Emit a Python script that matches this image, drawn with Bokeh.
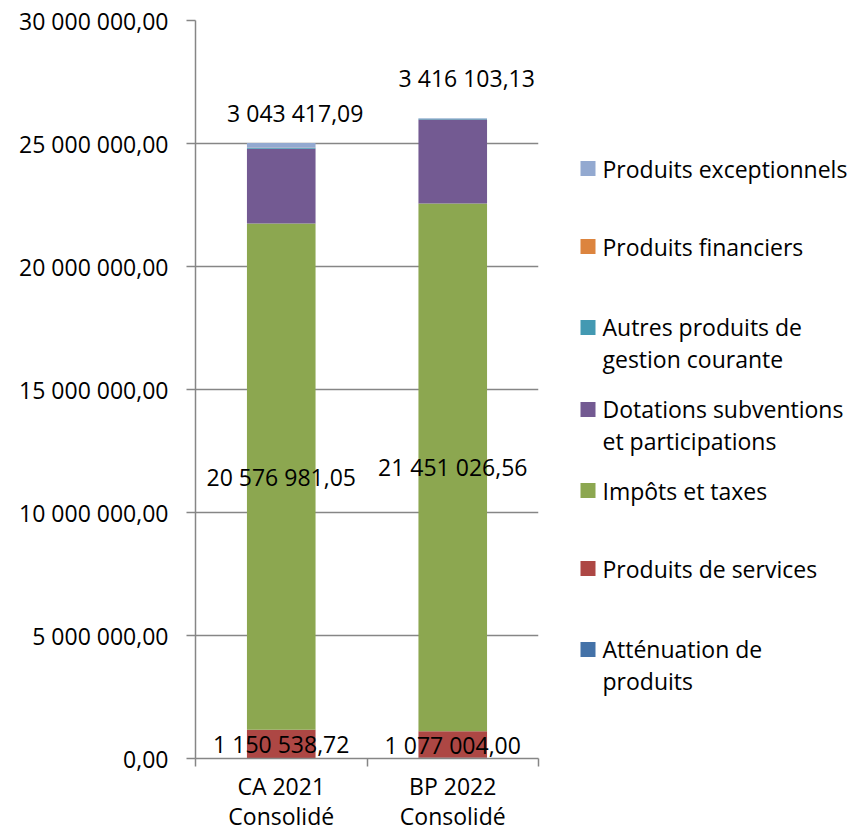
from bokeh.plotting import figure
from bokeh.models import Range1d, FixedTicker, ColumnDataSource
from bokeh.layouts import row
from bokeh.core.properties import value
from bokeh.embed import file_html
from bokeh.resources import INLINE

# ---------------- data ----------------
categories = ["CA 2021\nConsolidé", "BP 2022\nConsolidé"]
series = ["Atténuation de produits", "Produits de services", "Impôts et taxes",
          "Dotations subventions et participations", "Autres produits de gestion courante",
          "Produits financiers", "Produits exceptionnels"]
legend_text = ["Atténuation de\nproduits", "Produits de services", "Impôts et taxes",
               "Dotations subventions\net participations", "Autres produits de\ngestion courante",
               "Produits financiers", "Produits exceptionnels"]
attenuation = [20000.0, 30000.0]
services = [1150538.72, 1077004.00]
impots = [20576981.05, 21451026.56]
dotations = [3043417.09, 3416103.13]
autres = [30000.0, 30000.0]
financiers = [10000.0, 5000.0]
exceptionnels = [190000.0, 20000.0]
yticks = [0, 5000000, 10000000, 15000000, 20000000, 25000000, 30000000]
ytick_labels = ["0,00", "5 000 000,00", "10 000 000,00", "15 000 000,00",
                "20 000 000,00", "25 000 000,00", "30 000 000,00"]

colors = ["#4472A8", "#AD4744", "#8CA750", "#735A92", "#4399B2", "#DC843E", "#93A9D0"]
FONT = "Open Sans"
FS = "23px"
TXT = "#000000"
GRID = "#868686"
H = 835
TOP, BOTTOM = 20, 77


def fmt(v):
    return f"{v:,.2f}".replace(",", " ").replace(".", ",")


xs = [i + 0.5 for i in range(len(categories))]
data = {"x": xs}
vals = [attenuation, services, impots, dotations, autres, financiers, exceptionnels]
for name, v in zip(series, vals):
    data[name] = v
src = ColumnDataSource(data)

p = figure(width=560, height=H, output_backend="svg", toolbar_location=None,
           x_range=Range1d(0, len(categories)), y_range=Range1d(0, 30000000),
           min_border_left=195, min_border_right=22, min_border_top=TOP,
           min_border_bottom=BOTTOM)
p.outline_line_color = None
p.background_fill_color = "white"
p.border_fill_color = "white"

p.vbar_stack(series, x="x", width=0.4, color=colors, source=src, line_color=None)

# axes
p.xaxis.ticker = FixedTicker(ticks=xs, minor_ticks=list(range(len(categories) + 1)))
p.xaxis.major_label_overrides = {x: c for x, c in zip(xs, categories)}
p.xaxis.major_tick_out = 0
p.xaxis.major_tick_in = 0
p.xaxis.minor_tick_out = 8
p.xaxis.minor_tick_in = 0
p.xaxis.minor_tick_line_color = GRID
p.xaxis.minor_tick_line_width = 1.5
p.xaxis.major_label_standoff = 3
p.xaxis.major_label_text_line_height = 0.96

p.yaxis.ticker = FixedTicker(ticks=yticks, minor_ticks=[])
p.yaxis.major_label_overrides = {t: l for t, l in zip(yticks, ytick_labels)}
p.yaxis.major_tick_out = 9
p.yaxis.major_tick_in = 0
p.yaxis.major_tick_line_color = GRID
p.yaxis.major_tick_line_width = 1.5
p.yaxis.major_label_standoff = 18

for ax in (p.xaxis[0], p.yaxis[0]):
    ax.axis_line_color = GRID
    ax.axis_line_width = 1.5
    ax.major_label_text_font = FONT
    ax.major_label_text_font_size = FS
    ax.major_label_text_color = TXT
    ax.major_label_text_font_style = "normal"

p.xgrid.grid_line_color = None
p.ygrid.grid_line_color = GRID
p.ygrid.grid_line_width = 1.5

# data labels
lab_x, lab_y, lab_t, lab_dx, lab_dy = [], [], [], [], []
for i, x in enumerate(xs):
    base_s = attenuation[i]
    lab_x.append(x); lab_y.append(base_s + services[i] / 2); lab_t.append(fmt(services[i]))
    lab_dx.append(0); lab_dy.append(0)
    base_i = base_s + services[i]
    lab_x.append(x); lab_y.append(base_i + impots[i] / 2); lab_t.append(fmt(impots[i]))
    lab_dx.append(0); lab_dy.append(0)
    top = sum(v[i] for v in vals)
    lab_x.append(x); lab_y.append(top); lab_t.append(fmt(dotations[i]))
    lab_dx.append(14); lab_dy.append(-30 if i == 0 else -40)
lsrc = ColumnDataSource(dict(x=lab_x, y=lab_y, t=lab_t, dx=lab_dx, dy=lab_dy))
p.text(x="x", y="y", text="t", x_offset="dx", y_offset="dy", source=lsrc,
       text_font=value(FONT), text_font_size=FS, text_color=TXT,
       text_align="center", text_baseline="middle")

# ---------------- legend ----------------
LW = 288
lg = figure(width=LW, height=H, output_backend="svg", toolbar_location=None,
            x_range=Range1d(560, 560 + LW), y_range=Range1d(H - BOTTOM, TOP),
            min_border_left=0, min_border_right=0,
            min_border_top=TOP, min_border_bottom=BOTTOM)
lg.axis.visible = False
lg.grid.visible = False
lg.outline_line_color = None

order = list(range(len(series)))[::-1]
first_line_y = [168, 246, 327, 409, 490, 568, 649]
line_px = 31
sq_y, tx_y, tx_t, sq_c = [], [], [], []
for k, idx in enumerate(order):
    t = legend_text[idx]
    n = t.count("\n") + 1
    sq_y.append(first_line_y[k])
    tx_y.append(first_line_y[k] + (n - 1) * line_px / 2)
    tx_t.append(t)
    sq_c.append(colors[idx])
lg.scatter(x=[587.5] * len(sq_y), y=sq_y, marker="square", size=15, color=sq_c,
           line_color=None)
lg.text(x=[602] * len(tx_y), y=tx_y, text=tx_t, text_font=value(FONT),
        text_font_size=FS, text_color=TXT, text_align="left",
        text_baseline="middle", text_line_height=0.99)

layout = row(p, lg)
open("out.html", "w").write(file_html(layout, INLINE))
